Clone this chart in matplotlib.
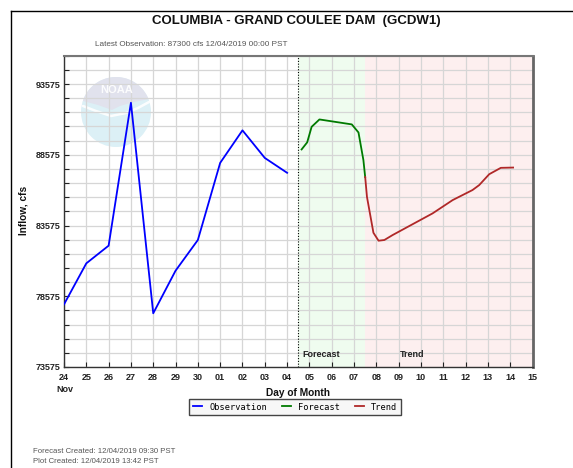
import matplotlib
matplotlib.use("Agg")
import matplotlib.pyplot as plt
import numpy as np
from matplotlib.patches import Ellipse, Polygon
from matplotlib.lines import Line2D

plt.rcParams['font.family'] = ['Liberation Sans', 'DejaVu Sans']

# ---- data (days since Nov 24 00:00) ----
obs_days = [0, 1, 2, 3, 4, 5, 6, 7, 8, 9, 10]
obs_vals = [78000, 80900, 82150, 92250, 77370, 80380, 82550, 88000, 90300, 88350, 87300]

fc_days = [10.65, 10.9, 11.1, 11.45, 12.9, 13.2, 13.42, 13.5]
fc_vals = [88950, 89450, 90550, 91070, 90720, 90150, 88200, 87000]

tr_days = [13.5, 13.58, 13.87, 14.1, 14.36, 14.73, 16.52, 17.42, 18.31, 18.61, 19.06, 19.58, 20.13]
tr_vals = [87000, 85600, 83060, 82500, 82550, 82900, 84430, 85370, 86080, 86430, 87200, 87650, 87670]

x_ticklabels = ['24', '25', '26', '27', '28', '29', '30', '01', '02', '03', '04',
                '05', '06', '07', '08', '09', '10', '11', '12', '13', '14', '15']
y_major = [73575, 78575, 83575, 88575, 93575]
y_min, y_max = 73575, 95575
forecast_start, trend_start, x_end = 10.5, 13.5, 21

W, H = 573, 468
fig = plt.figure(figsize=(W / 100, H / 100), dpi=100)
fig.patch.set_facecolor('white')

def fx(px):
    return px / W

def fy(py):
    return 1 - py / H

ax = fig.add_axes([fx(64), fy(367), fx(532.5) - fx(64), fy(55.7) - fy(367)])
ax.set_xlim(0, x_end)
ax.set_ylim(y_min, y_max)

# shaded regions
ax.axvspan(forecast_start, trend_start, color='#effcef', zorder=0.1, lw=0)
ax.axvspan(trend_start, x_end, color='#fdefef', zorder=0.1, lw=0)
ax.axvline(forecast_start, color='black', ls=(0, (1, 1.5)), lw=0.8, zorder=1)

# NOAA logo (faded)
cx, cy, r = 116, 112, 35
ax.add_patch(Ellipse((fx(cx), fy(cy)), 2 * r / W, 2 * r / H, transform=fig.transFigure,
                     facecolor='#dcf0f6', edgecolor='none', zorder=0.3))
angs = np.linspace(np.deg2rad(20), np.deg2rad(160), 40)
up = [(cx + r * np.cos(a), cy - r * np.sin(a)) for a in angs]
low = [(cx - 33, cy - 11), (cx - 18, cy - 7), (cx - 4, cy - 2), (cx + 4, cy - 6),
       (cx + 18, cy - 10), (cx + 33, cy - 13)]
poly = up + low
ax.add_patch(Polygon([(fx(a), fy(b)) for a, b in poly], closed=True, transform=fig.transFigure,
                     facecolor='#e1e2ed', edgecolor='none', zorder=0.31))
sw = [(cx - 33, cy - 6), (cx - 20, cy - 1), (cx - 5, cy + 4), (cx + 10, cy + 1),
      (cx + 22, cy - 4), (cx + 33, cy - 10)]
ax.add_line(Line2D([fx(a) for a, b in sw], [fy(b) for a, b in sw], transform=fig.transFigure,
                   color='white', lw=1.8, zorder=0.32, solid_capstyle='round', alpha=0.9))
fig.text(fx(cx + 1), fy(cy - 22), 'NOAA', color='white', fontsize=8, fontweight='bold',
         ha='center', va='center', zorder=5, alpha=0.9)

# grid
ax.set_axisbelow(True)
ax.set_xticks(np.arange(0, x_end + 1, 1))
ax.set_xticklabels(x_ticklabels)
ax.set_yticks(y_major)
ax.set_yticks(np.arange(y_min, y_max + 1, 1000), minor=True)
ax.grid(True, which='both', color='#d6d6d6', lw=0.9, zorder=0.5)
ax.grid(False, axis='x', which='minor')

# series
l1, = ax.plot(obs_days, obs_vals, color='#0000ff', lw=1.3, zorder=3, label='Observation')
l2, = ax.plot(fc_days, fc_vals, color='#007a00', lw=1.3, zorder=3, label='Forecast')
l3, = ax.plot(tr_days, tr_vals, color='#b02828', lw=1.3, zorder=3, label='Trend')

# ticks
ax.tick_params(axis='both', which='both', direction='in', length=3.5, width=0.8,
               labelsize=6.5, colors='#222222')
ax.tick_params(axis='x', pad=4.5)
ax.tick_params(axis='y', pad=2.5)
for lab in ax.get_xticklabels() + ax.get_yticklabels():
    lab.set_fontweight('bold')

for s in ['left', 'bottom']:
    ax.spines[s].set_color('#333333')
    ax.spines[s].set_linewidth(1)
ax.spines['top'].set_color('#777777')
ax.spines['top'].set_linewidth(1.5)
ax.spines['right'].set_color('#666666')
ax.spines['right'].set_linewidth(2)

# region labels
fig.text(fx(302.5), fy(354.3), 'Forecast', fontsize=6.5, fontweight='bold', color='#222222',
         ha='left', va='center')
fig.text(fx(400), fy(354.3), 'Trend', fontsize=6.5, fontweight='bold', color='#222222',
         ha='left', va='center')

# texts
fig.text(fx(296), fy(21), 'COLUMBIA - GRAND COULEE DAM  (GCDW1)', fontsize=9.5,
         fontweight='bold', ha='center', va='center', color='#111111')
fig.text(fx(95), fy(45), 'Latest Observation: 87300 cfs 12/04/2019 00:00 PST', fontsize=5.85,
         color='#555555', ha='left', va='center')
fig.text(fx(23), fy(210), 'Inflow, cfs', fontsize=7.3, fontweight='bold', rotation=90,
         ha='center', va='center', color='#111111')
fig.text(fx(298), fy(393.5), 'Day of Month', fontsize=7.3, fontweight='bold',
         ha='center', va='center', color='#111111')
fig.text(fx(65), fy(390), 'Nov', fontsize=6.5, fontweight='bold', ha='center', va='center',
         color='#222222')
fig.text(fx(33), fy(451.7), 'Forecast Created: 12/04/2019 09:30 PST', fontsize=5.6,
         color='#555555', ha='left', va='center')
fig.text(fx(33), fy(461.7), 'Plot Created: 12/04/2019 13:42 PST', fontsize=5.6,
         color='#555555', ha='left', va='center')

# legend
leg = fig.legend(handles=[l1, l2, l3], loc='center', bbox_to_anchor=(fx(295), fy(407)),
                 ncol=3, frameon=True, fancybox=False, edgecolor='#444444',
                 facecolor='#f7f7f7', framealpha=1, handlelength=1.1, handletextpad=0.8,
                 columnspacing=1.7, borderpad=0.4,
                 prop={'family': 'DejaVu Sans Mono', 'size': 6.2})
leg.get_frame().set_linewidth(1.0)
for h in leg.legend_handles:
    h.set_linewidth(1.3)

# outer frame lines
fig.add_artist(Line2D([fx(11), fx(11)], [fy(11), fy(468)], color='black', lw=1,
                      transform=fig.transFigure))
fig.add_artist(Line2D([fx(11), fx(573)], [fy(11), fy(11)], color='black', lw=1,
                      transform=fig.transFigure))

fig.savefig('out.png', dpi=100, facecolor='white')
